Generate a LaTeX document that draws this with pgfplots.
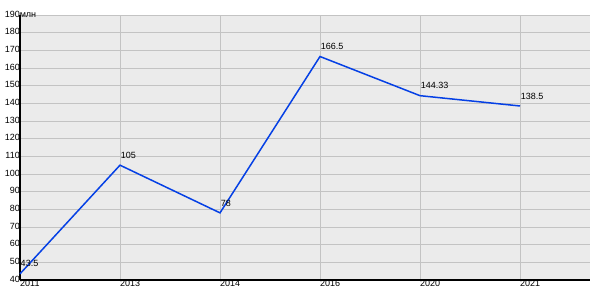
\documentclass[border=0pt]{standalone}
\usepackage{pgfplots}
\pgfplotsset{compat=1.18}
\usepackage{fontspec}
\setmainfont{Liberation Sans}
\definecolor{bg}{HTML}{EBEBEB}
\definecolor{gridc}{HTML}{C3C3C3}
\definecolor{lineblue}{HTML}{0540E5}
\begin{document}
\fontsize{9}{11}\selectfont
\begin{tikzpicture}
\useasboundingbox (-20pt,-20pt) rectangle (580pt,280pt);
\begin{axis}[
  scale only axis,
  width=570pt, height=265pt,
  xmin=0, xmax=5.7,
  ymin=40, ymax=190,
  xtick={0,1,2,3,4,5},
  xticklabels={2011,2013,2014,2016,2020,2021},
  ytick={40,50,...,190},
  yticklabels={40,50,60,70,80,90,100,110,120,130,140,150,160,170,180,190\rlap{млн}},
  /pgf/number format/assume math mode=true,
  axis background/.style={fill=bg},
  grid=major,
  major grid style={gridc, line width=0.8pt},
  axis x line*=bottom,
  axis y line*=left,
  axis line style={black, line width=1.2pt},
  tick style={draw=none},
  yticklabel style={inner sep=1pt, xshift=1pt, yshift=1pt, font=\fontsize{9}{11}\selectfont, text=black},
  xticklabel style={anchor=north west, inner sep=1pt, xshift=-1pt, yshift=1pt, font=\fontsize{9}{11}\selectfont, text=black},
  clip=false,
  nodes near coords,
  point meta=explicit symbolic,
  every node near coord/.style={anchor=south west, inner sep=1pt, yshift=5pt, xshift=-1pt, font=\fontsize{9}{11}\selectfont, text=black},
]
\addplot[lineblue, line width=1.5pt, mark=none] coordinates {
  (0,43.5)[43.5]
  (1,105)[105]
  (2,78)[78]
  (3,166.5)[166.5]
  (4,144.33)[144.33]
  (5,138.5)[138.5]
};
\end{axis}
\end{tikzpicture}
\end{document}
